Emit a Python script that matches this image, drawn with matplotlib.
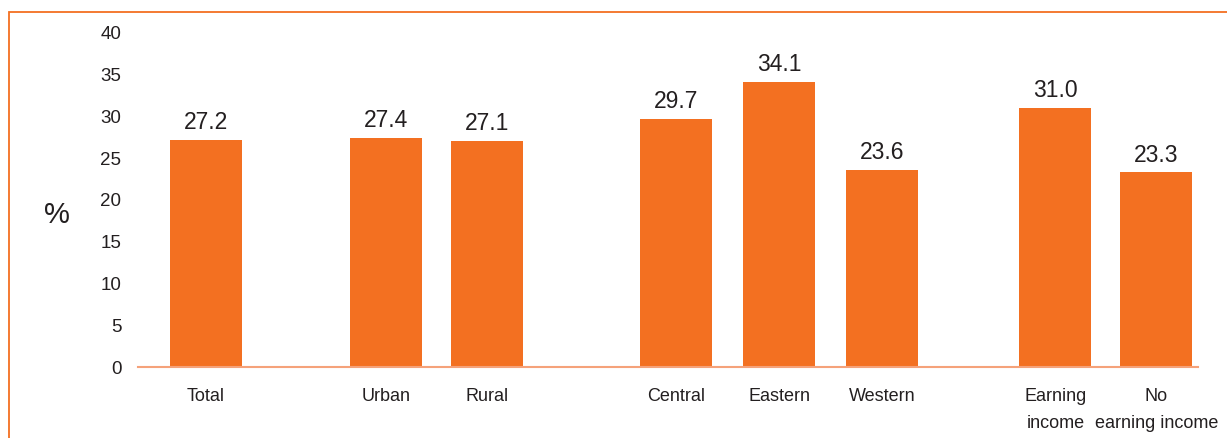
import matplotlib
matplotlib.use("Agg")
import matplotlib.pyplot as plt
from matplotlib.patches import Rectangle

plt.rcParams['font.family'] = ['Liberation Sans', 'DejaVu Sans']

categories = ["Total", "Urban", "Rural", "Central", "Eastern", "Western",
              "Earning\nincome", "No\nearning income"]
values = [27.2, 27.4, 27.1, 29.7, 34.1, 23.6, 31.0, 23.3]
# bar centres, with wider gaps between the groups
positions = [0, 1.773, 2.768, 4.63, 5.645, 6.66, 8.365, 9.36]

orange = "#F37021"
txt = "#231F20"

fig = plt.figure(figsize=(12.27, 4.38), dpi=100)
ax = fig.add_axes([0.1125, 0.1621, 0.8639, 0.7626])

# frame around the whole chart
fig.patches.append(Rectangle((0.0073, -0.1), 1.2, 1.0726, transform=fig.transFigure,
                             fill=False, edgecolor=orange, linewidth=1.3))

ax.bar(positions, values, width=0.71, color=orange, zorder=2)
for x, v in zip(positions, values):
    ax.text(x, v + 0.7, f"{v:.1f}", ha="center", va="bottom", fontsize=16.5, color=txt)

ax.set_xlim(-0.67, 9.77)
ax.set_ylim(0, 40)
ax.set_yticks(range(0, 41, 5))
ax.set_xticks(positions)
ax.set_xticklabels(categories, linespacing=1.75, fontsize=13)
ax.tick_params(axis="both", length=0, colors=txt)
ax.tick_params(axis="y", labelsize=13.5, pad=12)
ax.tick_params(axis="x", pad=15)

for s in ["top", "right", "left"]:
    ax.spines[s].set_visible(False)
ax.spines["bottom"].set_color("#F5A27A")
ax.spines["bottom"].set_linewidth(1.5)

# y-axis unit
fig.text(57 / 1227, 1 - 215 / 438, "%", ha="center", va="center", fontsize=21, color=txt)

fig.savefig("out.png", dpi=100)
